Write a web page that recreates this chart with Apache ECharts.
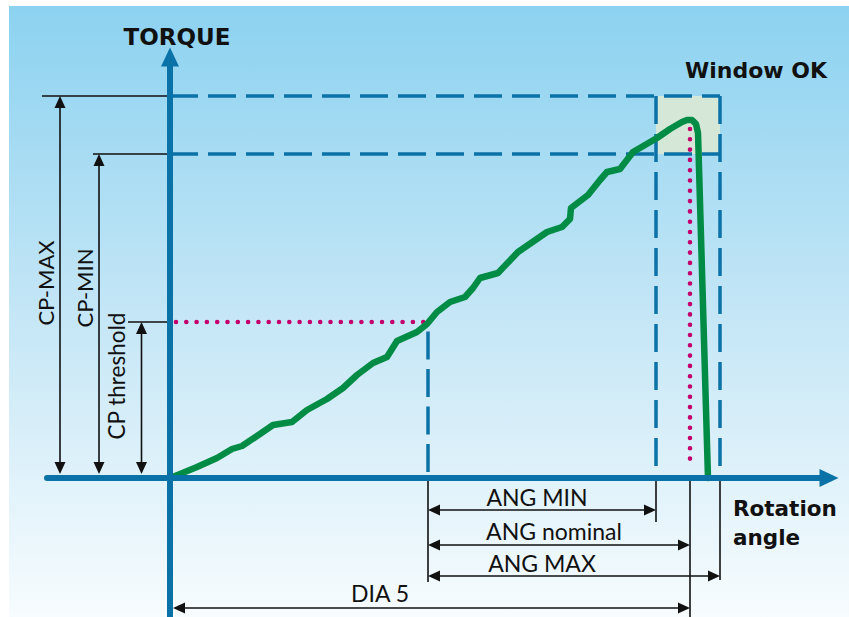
<!DOCTYPE html>
<html><head><meta charset="utf-8">
<script src="https://cdn.jsdelivr.net/npm/echarts@6/dist/echarts.min.js"></script>
<style>html,body{margin:0;padding:0;background:#fff}#c{width:849px;height:617px}</style>
</head><body><div id="c"></div>
<script>
// ---- data (angle / torque units, origin at the axis crossing) ----
const curveAngle  = [0,10,27,47,62,72,87,103,122,137,157,173,187,203,217,227,247,257,267,280,295,303,310,328,348,377,392,400,401,418,430,437,450,463,487,500,512,517,522,526,528,538];
const curveTorque = [0,4,11,20,29,32,42,53,56,68,79,90,103,115,121,137,146,154,166,176,181,190,200,205,226,246,251,259,270,283,298,306,309,326,340,349,356,358,358,354,345,0];
const cpMax = 382, cpMin = 324, cpThreshold = 156;
const angThreshold = 258, angMin = 486, angNominal = 520, angMax = 550;
const dimLabels = ['CP-MAX','CP-MIN','CP threshold','ANG MIN','ANG nominal','ANG MAX','DIA 5'];
const axisNames = ['TORQUE', 'Rotation', 'angle'];
const windowLabel = 'Window OK';

// ---- styles ----
const BLUE = '#0b72a8', GREEN = '#008c44', MAG = '#c4006c', BLK = '#111111';
const FONT = 'Lato, "Open Sans", sans-serif';
const BFONT = '"DejaVu Sans", sans-serif';

function segRender(style) {
  return function (params, api) {
    const a = api.coord([api.value(0), api.value(1)]);
    const b = api.coord([api.value(2), api.value(3)]);
    return { type: 'line', shape: { x1: a[0], y1: a[1], x2: b[0], y2: b[1] },
      style: Object.assign({ fill: null }, style) };
  };
}
function rectRender(params, api) {
  const a = api.coord([api.value(0), api.value(1)]);
  const b = api.coord([api.value(2), api.value(3)]);
  return { type: 'rect', shape: { x: Math.min(a[0], b[0]), y: Math.min(a[1], b[1]),
    width: Math.abs(b[0] - a[0]), height: Math.abs(b[1] - a[1]) }, style: { fill: '#d5e8d8' } };
}
function arrowRender(params, api) {
  const a = api.coord([api.value(0), api.value(1)]);
  const b = api.coord([api.value(2), api.value(3)]);
  const dx = b[0] - a[0], dy = b[1] - a[1], len = Math.hypot(dx, dy), ux = dx / len, uy = dy / len;
  const L = 12, W = 5.5;
  const head = (t, sx, sy) => {
    const bx = t[0] - sx * L, by = t[1] - sy * L;
    return { type: 'polygon', shape: { points: [[t[0], t[1]], [bx - sy * W, by + sx * W], [bx + sy * W, by - sx * W]] },
      style: { fill: BLK } };
  };
  return { type: 'group', children: [
    { type: 'line', shape: { x1: a[0] + ux * 4, y1: a[1] + uy * 4, x2: b[0] - ux * 4, y2: b[1] - uy * 4 },
      style: { stroke: BLK, lineWidth: 1.6, fill: null } },
    head(b, ux, uy), head(a, -ux, -uy)
  ] };
}

const chart = echarts.init(document.getElementById('c'), null, { renderer: 'svg' });
const dimY = [-32, -67, -98, -130];
const txt = (x, y, text, font, align, rot) => ({ type: 'text', z: 100, x: x, y: y, rotation: rot || 0,
  style: { text: text, font: font, fill: BLK, align: align || 'center', verticalAlign: 'middle' } });
chart.setOption({
  animation: false,
  grid: { left: 47, right: 20, top: 57, bottom: 0 },
  xAxis: { type: 'value', min: -123, max: 659, z: 10,
    axisLine: { show: true, onZero: true, symbol: ['none', 'triangle'], symbolSize: [18, 19],
      lineStyle: { color: BLUE, width: 6 } },
    axisTick: { show: false }, axisLabel: { show: false }, splitLine: { show: false } },
  yAxis: { type: 'value', min: -139, max: 421, z: 10,
    axisLine: { show: true, onZero: true, symbol: ['none', 'triangle'], symbolSize: [18, 19],
      lineStyle: { color: BLUE, width: 6 } },
    axisTick: { show: false }, axisLabel: { show: false }, splitLine: { show: false } },
  series: [
    { type: 'custom', clip: false, z: 1, renderItem: rectRender,
      data: [[angMin, cpMax, angMax, cpMin]] },
    { type: 'custom', clip: false, z: 2,
      renderItem: segRender({ stroke: BLUE, lineWidth: 3.5, lineDash: [28, 10] }),
      data: [[0, cpMax, angMax, cpMax], [0, cpMin, angMax, cpMin],
             [angMin, cpMax, angMin, 0], [angMax, cpMax, angMax, 0]] },
    { type: 'custom', clip: false, z: 2,
      renderItem: segRender({ stroke: BLUE, lineWidth: 3.5, lineDash: [28, 9.5] }),
      data: [[angThreshold, 6, angThreshold, 148]] },
    { type: 'custom', clip: false, z: 3,
      renderItem: segRender({ stroke: MAG, lineWidth: 4.6, lineDash: [0, 10.3], lineCap: 'round' }),
      data: [[6, cpThreshold, angThreshold - 2, cpThreshold], [angNominal, 349, angNominal, 10]] },
    { type: 'line', z: 4, showSymbol: false, symbol: 'none',
      data: curveAngle.map((a, i) => [a, curveTorque[i]]),
      lineStyle: { color: GREEN, width: 6.5, cap: 'round', join: 'round' } },
    { type: 'custom', clip: false, z: 5,
      renderItem: segRender({ stroke: BLK, lineWidth: 1.6 }),
      data: [[-128, cpMax, 0, cpMax], [-77, cpMin, 0, cpMin], [-42, cpThreshold, 0, cpThreshold],
             [angThreshold, 0, angThreshold, -104], [angMin, 0, angMin, -44],
             [angNominal, 0, angNominal, -139], [angMax, 0, angMax, -102]] },
    { type: 'custom', clip: false, z: 5, renderItem: arrowRender,
      data: [[-110, cpMax, -110, 4], [-71, cpMin, -71, 4], [-28.5, cpThreshold, -28.5, 4],
             [angThreshold, dimY[0], angMin, dimY[0]], [angThreshold, dimY[1], angNominal, dimY[1]],
             [angThreshold, dimY[2], angMax, dimY[2]], [3, dimY[3], angNominal, dimY[3]]] }
  ],
  graphic: [
    { type: 'rect', z: -100, silent: true, shape: { x: 9, y: 6, width: 840, height: 611 },
      style: { fill: new echarts.graphic.LinearGradient(0, 0, 0, 1, [
        { offset: 0, color: '#8cd2f0' }, { offset: 0.5, color: '#c4e6f6' }, { offset: 1, color: '#f7fcfe' }]) } },
    txt(177, 37, axisNames[0], 'bold 23px ' + BFONT),
    txt(733, 508, axisNames[1], 'bold 21.5px ' + BFONT, 'left'),
    txt(733, 537, axisNames[2], 'bold 21.5px ' + BFONT, 'left'),
    txt(685, 70, windowLabel, 'bold 22px ' + BFONT, 'left'),
    txt(45, 283, dimLabels[0], '22px ' + FONT, 'center', Math.PI / 2),
    txt(84, 288, dimLabels[1], '22px ' + FONT, 'center', Math.PI / 2),
    txt(116, 376, dimLabels[2], '22.5px ' + FONT, 'center', Math.PI / 2),
    txt(537, 497, dimLabels[3], '23px ' + FONT),
    txt(554, 531, dimLabels[4], '23px ' + FONT),
    txt(542, 563, dimLabels[5], '23px ' + FONT),
    txt(380, 593, dimLabels[6], '23px ' + FONT)
  ]
});
</script></body></html>
